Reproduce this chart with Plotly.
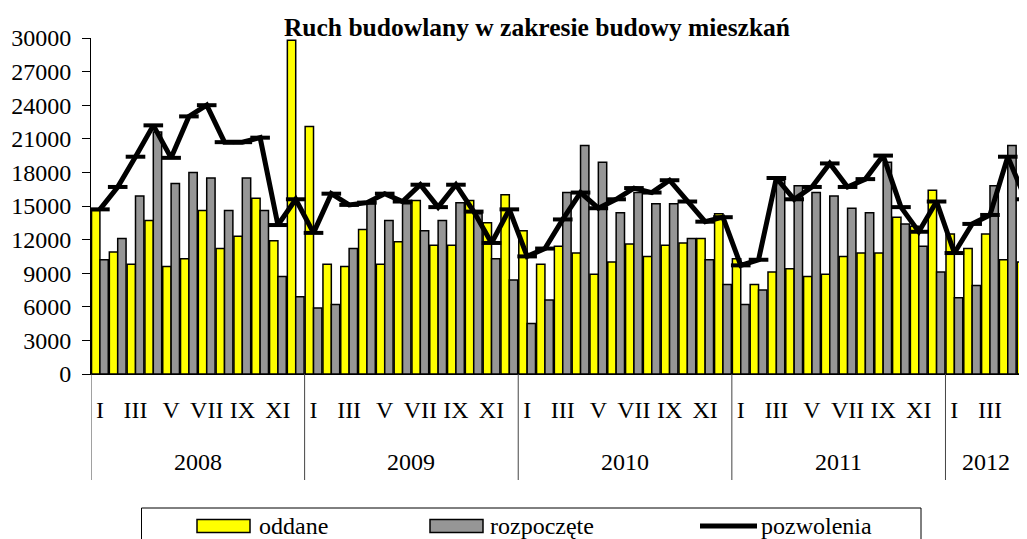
import plotly.graph_objects as go

# ---- data ----
years = ["2008", "2009", "2010", "2011", "2012"]
months = ["I", "II", "III", "IV", "V", "VI", "VII", "VIII", "IX", "X", "XI", "XII"]
months_per_year = [12, 12, 12, 12, 5]

oddane = [
    14600, 10900, 9800, 13700, 9600, 10300, 14600, 11200, 12300, 15700, 11900, 29800,
    22100, 9800, 9600, 12900, 9800, 11800, 15500, 11500, 11500, 15500, 13500, 16000,
    12800, 9800, 11400, 10800, 8900, 10000, 11600, 10500, 11500, 11700, 12100, 14300,
    10300, 8000, 9100, 9400, 8700, 8900, 10500, 10800, 10800, 14000, 13200, 16400,
    12500, 11200, 12500, 10200, 10000,
]
rozpoczete = [
    10200, 12100, 15900, 21600, 17000, 18000, 17500, 14600, 17500, 14600, 8700, 6900,
    5900, 6200, 11200, 15200, 13700, 15200, 12800, 13700, 15300, 14300, 10300, 8400,
    4500, 6600, 16200, 20400, 18900, 14400, 16200, 15200, 15200, 12100, 10200, 8000,
    6200, 7500, 17300, 16800, 16200, 15900, 14800, 14400, 18900, 13400, 11400, 9100,
    6800, 7900, 16800, 20400, None,
]
pozwolenia = [
    14700, 16700, 19400, 22200, 19300, 23000, 24000, 20700, 20700, 21100, 13300, 15600,
    12600, 16100, 15100, 15300, 16100, 15400, 16900, 14900, 16900, 14500, 11700, 14700,
    10500, 11200, 13800, 16200, 14800, 15600, 16600, 16200, 17300, 15400, 13600, 14000,
    9700, 10200, 17500, 15600, 16700, 18800, 16700, 17400, 19500, 14900, 12700, 15400,
    10800, 13400, 14200, 19400, 15600,
]
y_ticks = list(range(0, 30001, 3000))

series_names = ["oddane", "rozpoczęte", "pozwolenia"]
series_colors = ["#FFFF00", "#969696", "black"]

# ---- derived positions ----
x = list(range(len(oddane)))
month_labels = []
for n in months_per_year:
    month_labels += months[:n]
tickvals = [i for i, m in enumerate(month_labels) if months.index(m) % 2 == 0]
ticktext = [month_labels[i] for i in tickvals]

FONT = "Liberation Serif, Times New Roman, serif"

# page body has an 8px margin; figure sized to fill the rest of the window
OFF = 8
FIG_W, FIG_H = 1027 - OFF, 539 - OFF
L, T = 91 - OFF, 38 - OFF
B = FIG_H - (374 - OFF)
H_PLOT = float(FIG_H - T - B)
W_PLOT = float(FIG_W - L)

def py(y_window):
    return -(y_window - 374) / H_PLOT

def pxx(x_window):
    return (x_window - 91) / W_PLOT

fig = go.Figure()
fig.add_trace(go.Bar(
    x=x, y=oddane, name=series_names[0],
    marker=dict(color=series_colors[0], line=dict(color="black", width=1.5)),
))
fig.add_trace(go.Bar(
    x=x, y=rozpoczete, name=series_names[1],
    marker=dict(color=series_colors[1], line=dict(color="black", width=1.5)),
))
fig.add_trace(go.Scatter(
    x=x, y=pozwolenia, name=series_names[2], mode="lines+markers",
    line=dict(color=series_colors[2], width=5),
    marker=dict(symbol="line-ew", size=14, color="black", line=dict(color="black", width=4)),
))

shapes = []
start = 0
bounds = [-0.5]
for n in months_per_year:
    start += n
    bounds.append(start - 0.5)
for b in bounds[:-1]:
    shapes.append(dict(type="line", xref="x", yref="paper", x0=b, x1=b,
                       y0=0, y1=py(480), line=dict(color="#444", width=1)))

# legend frame
shapes.append(dict(type="rect", xref="paper", yref="paper",
                   x0=pxx(141.5), x1=pxx(921), y0=py(508), y1=py(560),
                   line=dict(color="black", width=1), fillcolor="rgba(0,0,0,0)"))

# legend entries (swatch + label)
leg_swatch_x = [(197, 250), (430, 483), (700, 757)]
leg_text_x = [257.5, 489, 760]
leg_y = 526
annotations = []
for i, name in enumerate(series_names):
    x0, x1 = leg_swatch_x[i]
    if i < 2:
        shapes.append(dict(type="rect", xref="paper", yref="paper",
                           x0=pxx(x0), x1=pxx(x1), y0=py(leg_y - 6.5), y1=py(leg_y + 6.5),
                           fillcolor=series_colors[i], line=dict(color="black", width=1.5)))
    else:
        shapes.append(dict(type="line", xref="paper", yref="paper",
                           x0=pxx(x0), x1=pxx(x1), y0=py(leg_y), y1=py(leg_y),
                           line=dict(color="black", width=5)))
    annotations.append(dict(x=pxx(leg_text_x[i]), y=py(leg_y), xref="paper", yref="paper",
                            text=name, showarrow=False, xanchor="left", yanchor="middle",
                            borderpad=0, font=dict(family=FONT, size=24, color="black")))

start = 0
for yr, n in zip(years, months_per_year):
    if n == 12:
        cx = start + (n - 1) / 2
    else:
        cx = start + 1.75
    annotations.append(dict(x=cx, y=py(462), xref="x", yref="paper", text=yr,
                            showarrow=False, yanchor="middle",
                            font=dict(family=FONT, size=24, color="black")))
    start += n

fig.update_layout(
    width=FIG_W, height=FIG_H,
    margin=dict(l=L, r=0, t=T, b=B, autoexpand=False),
    paper_bgcolor="white", plot_bgcolor="white",
    barmode="group", bargap=0.06, bargroupgap=0,
    showlegend=False,
    title=dict(text="<b>Ruch budowlany w zakresie budowy mieszkań</b>",
               x=(537 - OFF) / FIG_W, xref="container", xanchor="center",
               y=1 - (27 - OFF) / FIG_H, yref="container", yanchor="middle",
               font=dict(family=FONT, size=25.5, color="black")),
    xaxis=dict(range=[-0.5, 52.08], tickmode="array", tickvals=tickvals,
               ticktext=ticktext, ticks="", showgrid=False, zeroline=False,
               showline=True, linecolor="black", linewidth=1,
               ticklabelstandoff=14,
               tickfont=dict(family=FONT, size=24, color="black")),
    yaxis=dict(range=[0, 30000], tickmode="array", tickvals=y_ticks,
               tickformat="d", ticks="outside", ticklen=8, tickcolor="black",
               showgrid=False, zeroline=False, showline=True, linecolor="black",
               linewidth=1, ticklabelstandoff=6,
               tickfont=dict(family=FONT, size=24, color="black")),
    shapes=shapes,
    annotations=annotations,
)

fig.write_html("out.html")
